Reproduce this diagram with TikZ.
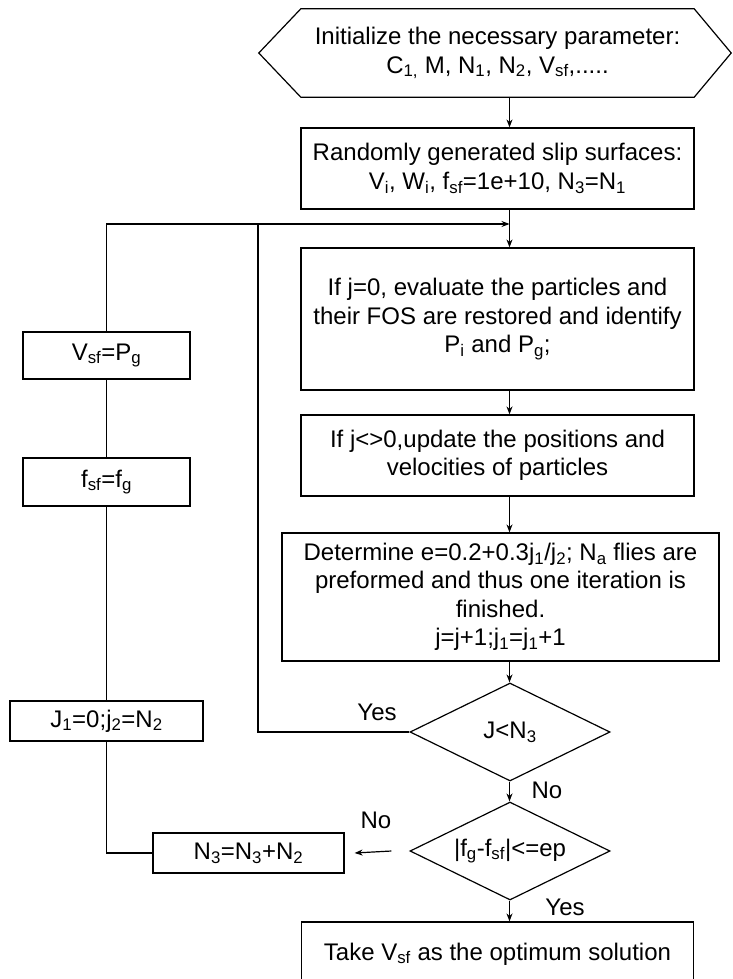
\documentclass[tikz,border=0pt]{standalone}
\usepackage{fontspec}
\setmainfont{Liberation Sans}
\usetikzlibrary{shapes.geometric,arrows.meta,calc}
\newcommand{\sbs}[1]{\textsubscript{#1}}
\begin{document}
\begin{tikzpicture}[x=1pt,y=-1pt,
  every node/.style={font=\fontsize{24}{28.5}\selectfont},
  box/.style={draw,line width=1.2pt,rectangle,inner sep=0pt,align=center},
  dia/.style={draw,line width=1.2pt,diamond,shape aspect=2,inner sep=0pt,minimum width=200pt,minimum height=98pt,align=center},
  ln/.style={line width=1.2pt},
  arr/.style={line width=1.2pt,-{Stealth[length=8pt,width=6pt]}},
  lbl/.style={inner sep=0pt}]
\useasboundingbox (0,0) rectangle (732,979);
\fill[white] (0,0) rectangle (732,979);
\coordinate (ax) at (509.5,0);
% main column
\node[inner sep=0pt,minimum width=393pt,minimum height=88pt,align=center] (hex) at (497.5,53) {Initialize the necessary parameter:\\C\sbs{1,} M, N\sbs{1}, N\sbs{2}, V\sbs{sf},.....};
\draw[ln] (hex.north west) -- (hex.north east) -- ($(hex.east)+(37,0)$) -- (hex.south east) -- (hex.south west) -- ($(hex.west)+(-42,0)$) -- cycle;
\node[box,minimum width=393pt,minimum height=81pt] (b2) at (497.5,168.5) {Randomly generated slip surfaces:\\V\sbs{i}, W\sbs{i}, f\sbs{sf}=1e+10, N\sbs{3}=N\sbs{1}};
\node[box,minimum width=393pt,minimum height=142pt] (b3) at (497.5,319) {If j=0, evaluate the particles and\\their FOS are restored and identify\\P\sbs{i} and P\sbs{g};};
\node[box,minimum width=393pt,minimum height=81pt] (b4) at (497.5,455.5) {If j<>0,update the positions and\\velocities of particles};
\node[box,minimum width=437pt,minimum height=128pt] (b5) at (500.5,597) {Determine e=0.2+0.3j\sbs{1}/j\sbs{2}; N\sbs{a} flies are\\preformed and thus one iteration is\\finished.\\j=j+1;j\sbs{1}=j\sbs{1}+1};
\node[dia] (d1) at (510,732) {J<N\sbs{3}};
\node[dia] (d2) at (510,851) {|f\sbs{g}-f\sbs{sf}|<=ep};
\node[box,minimum width=392pt,minimum height=64pt] (b6) at (497.5,954) {Take V\sbs{sf} as the optimum solution};
% left column
\node[box,minimum width=167pt,minimum height=47pt] (vsf) at (106.5,355.5) {V\sbs{sf}=P\sbs{g}};
\node[box,minimum width=167pt,minimum height=48pt] (fsf) at (106.5,482) {f\sbs{sf}=f\sbs{g}};
\node[box,minimum width=193pt,minimum height=40pt] (j1) at (106.5,721) {J\sbs{1}=0;j\sbs{2}=N\sbs{2}};
\node[box,minimum width=191pt,minimum height=40pt] (n3) at (248.5,853) {N\sbs{3}=N\sbs{3}+N\sbs{2}};
% junction
\coordinate (jn) at (509.5,224);
% main arrows
\draw[arr] (hex.south -| ax) -- (b2.north -| ax);
\draw[arr] (b2.south -| ax) -- (b3.north -| ax);
\draw[arr] (b3.south -| ax) -- (b4.north -| ax);
\draw[arr] (b4.south -| ax) -- (b5.north -| ax);
\draw[arr] (b5.south -| ax) -- (d1.north -| ax);
\draw[arr] (d1.south -| ax) -- (d2.north -| ax);
\draw[arr] (d2.south -| ax) -- (b6.north -| ax);
% Yes loop
\draw[ln] (d1.west) -- (258,732) -- (258,224);
% left chain
\draw[arr] (vsf.north) -- (vsf.north |- jn) -- (jn);
\draw[ln] (fsf.north) -- (vsf.south);
\draw[ln] (j1.north) -- (fsf.south);
\draw[ln] (n3.west) -| (j1.south);
\draw[arr] ([xshift=-18pt]d2.west) -- ([xshift=10pt]n3.east);
% labels
\node[lbl] (ly1) at (377,712) {Yes};
\node[lbl] (ln1) at (547,790) {No};
\node[lbl] (ln2) at (376,820) {No};
\node[lbl] (ly2) at (565,907) {Yes};
\end{tikzpicture}
\end{document}
